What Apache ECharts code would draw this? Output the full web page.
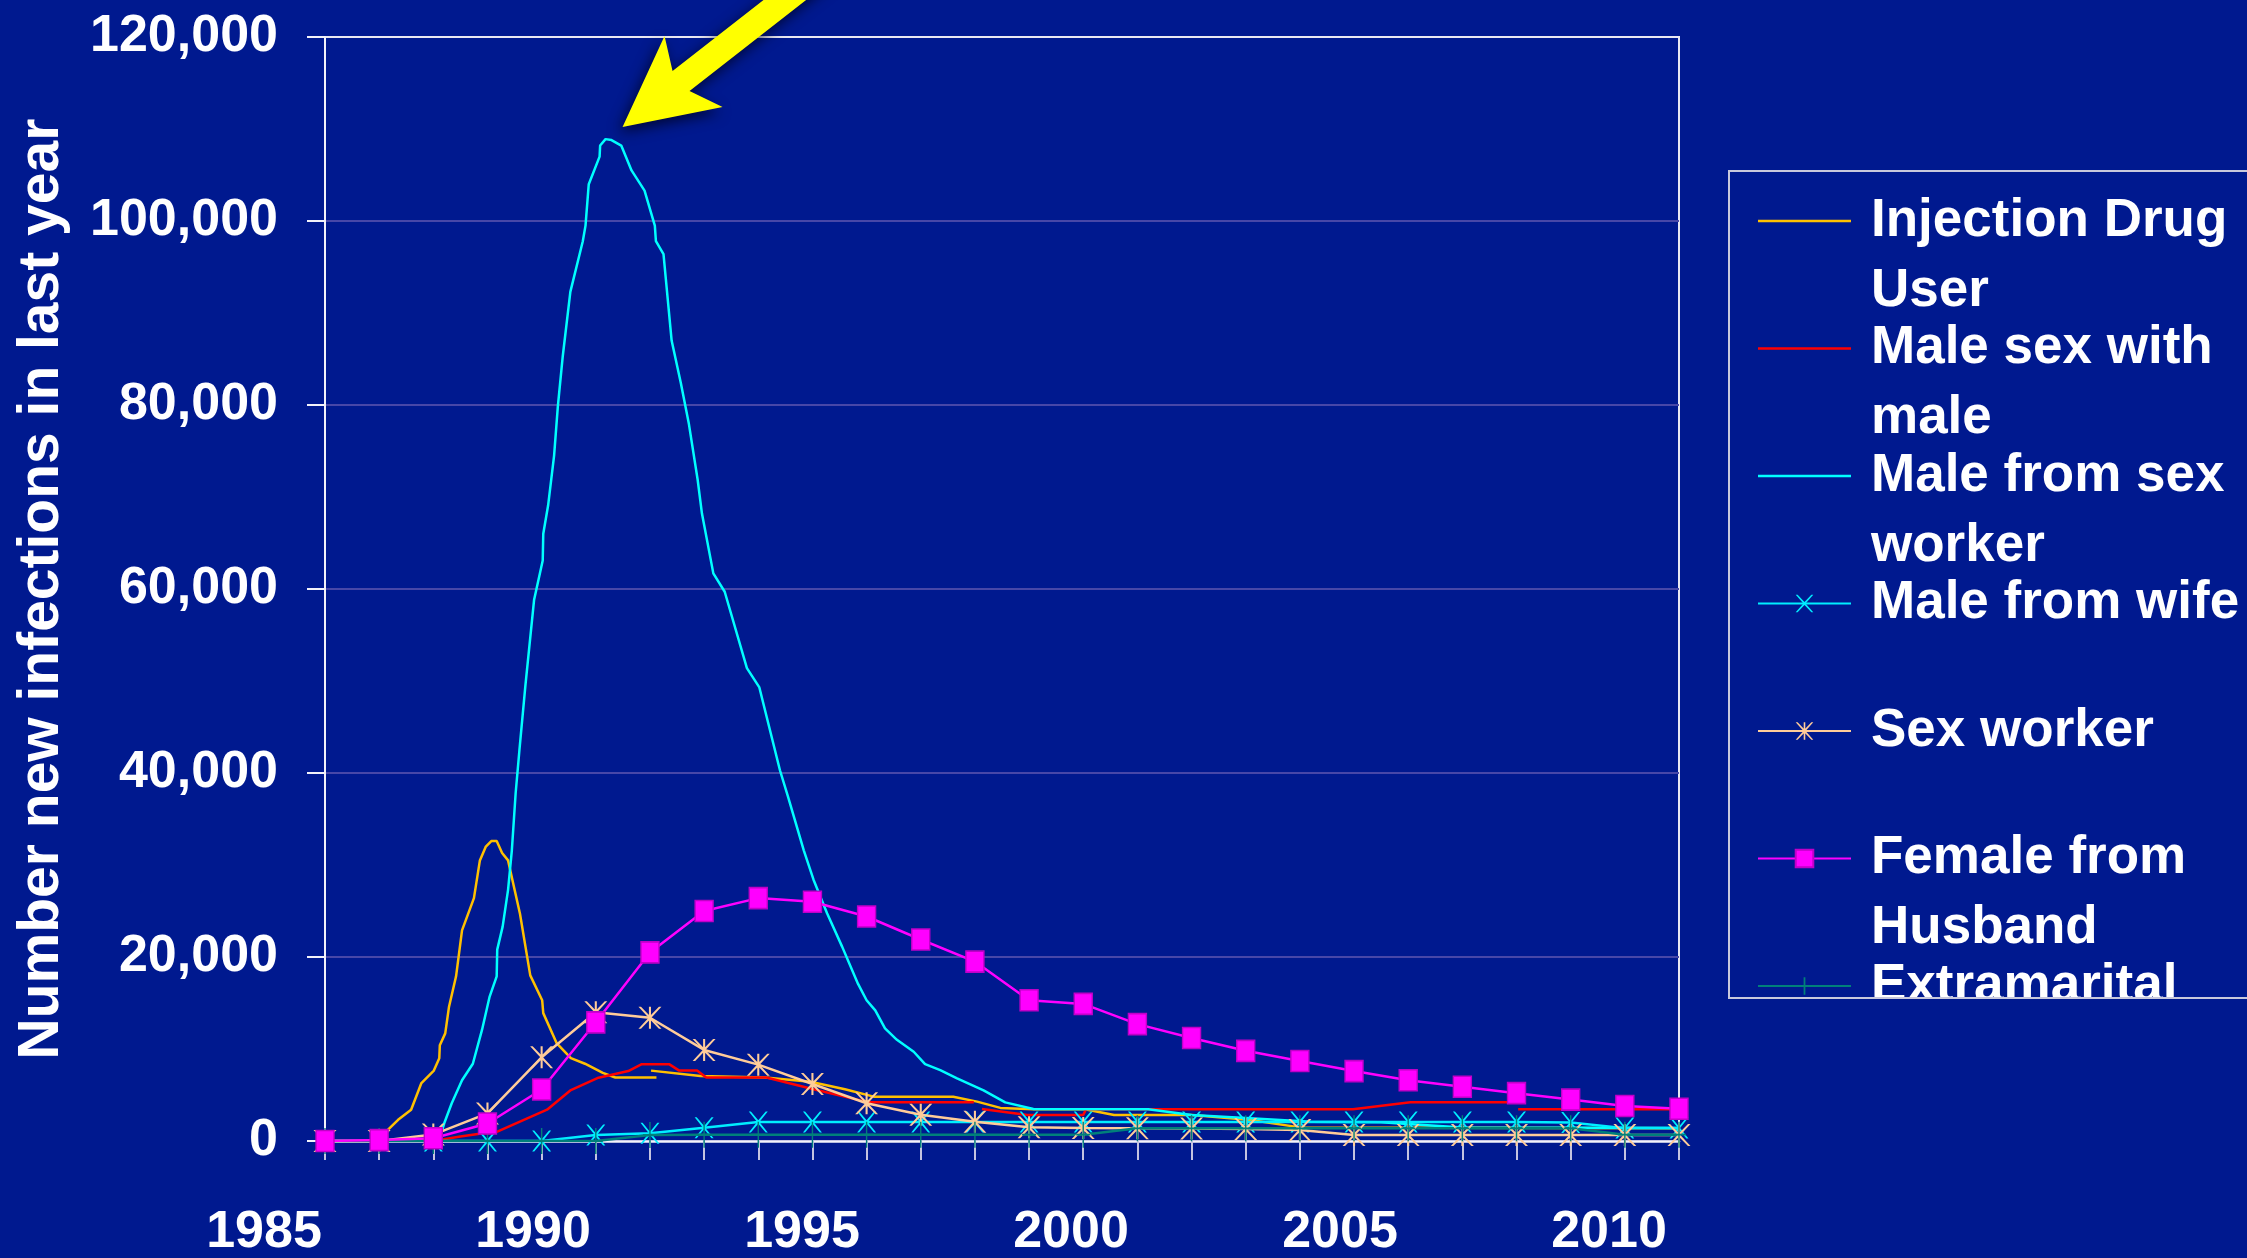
<!DOCTYPE html>
<html>
<head>
<meta charset="utf-8">
<title>Number new infections in last year</title>
<script src="https://cdn.jsdelivr.net/npm/echarts@6/dist/echarts.min.js"></script>
<style>
  html, body { margin: 0; padding: 0; background: #00198F; }
  #chart { width: 2247px; height: 1258px; }
</style>
</head>
<body>
<div id="chart"></div>
<script>
// ---- data -------------------------------------------------------------
// yearly series (one value per year)
const YEARS = [1986, 1987, 1988, 1989, 1990, 1991, 1992, 1993, 1994, 1995, 1996, 1997, 1998,
               1999, 2000, 2001, 2002, 2003, 2004, 2005, 2006, 2007, 2008, 2009, 2010, 2011];

const MALE_FROM_WIFE = [0, 0, 0, 0, 0, 650, 830, 1450, 2070, 2070, 2070, 2070, 2070,
                        2070, 2070, 2070, 2070, 2070, 2070, 2070, 2070, 2070, 2070, 2000, 1400, 1400];

const SEX_WORKER = [0, 0, 700, 3000, 9100, 14000, 13400, 9900, 8300, 6200, 4100, 2850, 2100,
                    1500, 1400, 1380, 1350, 1300, 1200, 650, 650, 650, 650, 650, 650, 650];

const FEMALE_FROM_HUSBAND = [0, 100, 300, 1900, 5600, 12900, 20500, 25000, 26400, 26000, 24400, 21900, 19500,
                             15300, 14900, 12700, 11200, 9800, 8700, 7600, 6600, 5900, 5200, 4500, 3800, 3500];

const EXTRAMARITAL = [0, 0, 0, 0, 0, 0, 650, 690, 690, 690, 690, 690, 690,
                      690, 690, 1380, 1380, 1380, 1380, 1380, 1380, 1380, 1380, 1380, 690, 690];

// finer time steps: [year, infections]; a null value breaks the line
const INJECTION_DRUG_USER = [
  [1986, 0], [1987.05, 0], [1987.16, 1200], [1987.35, 2300], [1987.59, 3400], [1987.78, 6300],
  [1988.01, 7650], [1988.11, 9000], [1988.12, 10400], [1988.22, 11700], [1988.29, 14600],
  [1988.42, 17900], [1988.53, 22900], [1988.75, 26400], [1988.86, 30500], [1988.97, 32000],
  [1989.07, 32600], [1989.17, 32600], [1989.27, 31300], [1989.38, 30500], [1989.6, 24700],
  [1989.79, 18000], [1990.01, 15300], [1990.03, 13900], [1990.28, 10600], [1990.54, 9000],
  [1990.8, 8400], [1991.13, 7400], [1991.36, 6900], [1992.12, 6900], [1992.07, null],
  [1992.02, 7650], [1992.93, 7070], [1994.13, 6900], [1994.96, 6450], [1995.6, 5620],
  [1996.13, 4820], [1997.6, 4820], [1998.04, 4280], [1998.47, 3600], [1999.08, 3440],
  [2000.03, 3440], [2000.57, 2830], [2002.01, 2830], [2003.09, 2280], [2004.0, 1480], [2011, 1380]
];

const MALE_SEX_WITH_MALE = [
  [1986, 0], [1988.0, 0], [1988.5, 500], [1988.92, 850], [1989.14, 900], [1990.1, 3400],
  [1990.54, 5540], [1991.05, 6880], [1991.6, 7600], [1991.84, 8330], [1992.36, 8330],
  [1992.54, 7650], [1992.87, 7650], [1993.04, 6900], [1994.15, 6900], [1995.0, 5650],
  [1996.04, 4200], [1997.98, 4200], [1998.05, null], [1998.13, 3480], [1998.97, 2830],
  [2000.0, 2830], [2000.05, 3440], [2004.98, 3440], [2006.04, 4200], [2008.0, 4200],
  [2008.01, null], [2008.03, 3440], [2011, 3440]
];

const MALE_FROM_SEX_WORKER = [
  [1986, 0], [1988.1, 0], [1988.2, 1900], [1988.34, 4100], [1988.53, 6600], [1988.73, 8400],
  [1988.9, 12100], [1989.04, 15700], [1989.17, 17900], [1989.18, 20800], [1989.28, 23300],
  [1989.38, 27300], [1989.45, 31600], [1989.52, 37800], [1989.59, 42500], [1989.7, 49500],
  [1989.86, 58800], [1990.02, 63100], [1990.03, 66000], [1990.12, 69100], [1990.23, 74500],
  [1990.3, 79900], [1990.39, 85300], [1990.53, 92300], [1990.76, 97800], [1990.81, 99500],
  [1990.87, 104000], [1991.07, 107000], [1991.08, 108200], [1991.18, 108900], [1991.29, 108800],
  [1991.47, 108200], [1991.66, 105500], [1991.9, 103300], [1992.09, 99500], [1992.11, 97800],
  [1992.25, 96400], [1992.4, 87000], [1992.57, 82400], [1992.72, 77900], [1992.88, 71900],
  [1992.96, 68200], [1993.17, 61700], [1993.38, 59700], [1993.79, 51400], [1994.02, 49300],
  [1994.4, 40300], [1994.55, 37400], [1994.84, 31600], [1995.02, 28400], [1995.27, 24750],
  [1995.55, 21100], [1995.84, 17100], [1996.0, 15300], [1996.16, 14200], [1996.34, 12250],
  [1996.56, 11000], [1996.87, 9700], [1997.08, 8350], [1997.36, 7700], [1997.67, 6800],
  [1998.16, 5500], [1998.56, 4200], [1999.08, 3480], [2001.2, 3450], [2002.0, 2830],
  [2003.0, 2500], [2004.2, 2100], [2005.5, 2050], [2007.0, 1480], [2011, 1400]
];

// axis ticks
const X_TICK_LABELS = [1985, 1990, 1995, 2000, 2005, 2010];
const Y_TICKS = [0, 20000, 40000, 60000, 80000, 100000, 120000];

// legend text, one entry per printed line
const LEGEND_LINES = {
  'Injection Drug User': ['Injection Drug', 'User'],
  'Male sex with male': ['Male sex with', 'male'],
  'Male from sex worker': ['Male from sex', 'worker'],
  'Male from wife': ['Male from wife'],
  'Sex worker': ['Sex worker'],
  'Female from Husband': ['Female from', 'Husband'],
  'Extramarital': ['Extramarital']
};

// ---- styling ----------------------------------------------------------
const BG = '#00198F';
const WHITE = '#FFFFFF';
const GRID_LINE = '#4747A8';
const SANS = "'Liberation Sans', Arial, Helvetica, sans-serif";

const SYMBOL_X = 'path://M0,0L2.2,0L10,8.4L17.8,0L20,0L11.2,10L20,20L17.8,20L10,11.6L2.2,20L0,20L8.8,10Z';
const SYMBOL_ASTERISK = 'path://M0,0L2.2,0L10,8.4L17.8,0L20,0L11.2,10L20,20L17.8,20L10,11.6L2.2,20L0,20L8.8,10Z' +
                        'M9.1,0L10.9,0L10.9,20L9.1,20Z';
const SYMBOL_PLUS = 'path://M9,0L11,0L11,20L9,20Z M0,9.3L20,9.3L20,10.7L0,10.7Z';
const LINE_ICON = 'path://M0,0L100,0L100,2.7L0,2.7Z';

const yearly = values => YEARS.map((y, i) => [y, values[i]]);

const lineBase = {
  type: 'line',
  xAxisIndex: 0,
  yAxisIndex: 0,
  connectNulls: false,
  animation: false,
  silent: true,
  emphasis: { disabled: true }
};

const seriesList = [
  Object.assign({}, lineBase, {
    name: 'Injection Drug User', data: INJECTION_DRUG_USER, symbol: 'none',
    color: '#FFC000', lineStyle: { width: 2.5, color: '#FFC000' }, z: 2
  }),
  Object.assign({}, lineBase, {
    name: 'Male sex with male', data: MALE_SEX_WITH_MALE, symbol: 'none',
    color: '#FF0000', lineStyle: { width: 2.5, color: '#FF0000' }, z: 2
  }),
  Object.assign({}, lineBase, {
    name: 'Male from sex worker', data: MALE_FROM_SEX_WORKER, symbol: 'none',
    color: '#00FFFF', lineStyle: { width: 2.5, color: '#00FFFF' }, z: 3
  }),
  Object.assign({}, lineBase, {
    name: 'Male from wife', data: yearly(MALE_FROM_WIFE),
    symbol: SYMBOL_X, symbolSize: [19, 21], showSymbol: true,
    color: '#00EEFF', itemStyle: { color: '#00EEFF' },
    lineStyle: { width: 2.5, color: '#00EEFF' }, z: 3
  }),
  Object.assign({}, lineBase, {
    name: 'Sex worker', data: yearly(SEX_WORKER),
    symbol: SYMBOL_ASTERISK, symbolSize: [23, 22], showSymbol: true,
    color: '#FFCC99', itemStyle: { color: '#FFCC99' },
    lineStyle: { width: 2.5, color: '#FFCC99' }, z: 4
  }),
  Object.assign({}, lineBase, {
    name: 'Female from Husband', data: yearly(FEMALE_FROM_HUSBAND),
    symbol: 'rect', symbolSize: [18, 21], showSymbol: true,
    color: '#FF00FF', itemStyle: { color: '#FF00FF', borderColor: '#C000C8', borderWidth: 1.5 },
    lineStyle: { width: 2.5, color: '#FF00FF' }, z: 5
  }),
  Object.assign({}, lineBase, {
    name: 'Extramarital', data: yearly(EXTRAMARITAL),
    symbol: SYMBOL_PLUS, symbolSize: [14, 26], showSymbol: true,
    color: '#00807A', itemStyle: { color: '#00807A' },
    lineStyle: { width: 2.5, color: '#00807A' }, z: 4
  })
];

// each key entry is three text lines tall; the swatch sits on the first printed line
const legendLabel = name => {
  const lines = LEGEND_LINES[name];
  return lines.length > 1 ? '\n' + lines.join('\n') : '\n' + lines[0] + '\n';
};
const legendData = seriesList.map(s => {
  const item = { name: s.name };
  if (s.symbol === 'none') item.icon = LINE_ICON;
  return item;
});

const chart = echarts.init(document.getElementById('chart'), null, { renderer: 'canvas' });

const tickLabel = {
  color: WHITE, fontFamily: SANS, fontWeight: 'bold', fontSize: 52
};

chart.setOption({
  backgroundColor: BG,
  animation: false,
  grid: [
    { left: 325, top: 37, right: 568, bottom: 117, show: true, outerBoundsMode: 'none',
      borderColor: '#E8E8F2', borderWidth: 2, backgroundColor: 'transparent' },
    // strip that carries the year labels
    { left: 264, right: 638, top: 1131, bottom: 117, show: false, outerBoundsMode: 'none' }
  ],
  xAxis: [
    {
      type: 'value', gridIndex: 0, min: YEARS[0], max: YEARS[YEARS.length - 1], interval: 1,
      axisLine: { show: true, onZero: false, lineStyle: { color: '#F2F2FA', width: 2.5 } },
      axisTick: { show: true, inside: false, length: 19, lineStyle: { color: '#C4C4E0', width: 2 } },
      axisLabel: { show: false },
      splitLine: { show: false }
    },
    {
      type: 'value', gridIndex: 1,
      min: X_TICK_LABELS[0], max: X_TICK_LABELS[X_TICK_LABELS.length - 1],
      interval: X_TICK_LABELS[1] - X_TICK_LABELS[0],
      axisLine: { show: false }, axisTick: { show: false }, splitLine: { show: false },
      axisLabel: Object.assign({ show: true, margin: 92, verticalAlign: 'middle', formatter: v => String(v) }, tickLabel)
    }
  ],
  yAxis: [
    {
      type: 'value', gridIndex: 0,
      min: Y_TICKS[0], max: Y_TICKS[Y_TICKS.length - 1], interval: Y_TICKS[1] - Y_TICKS[0],
      name: 'Number new infections in last year',
      nameLocation: 'middle', nameRotate: 90, nameGap: 283,
      nameTextStyle: { color: WHITE, fontFamily: SANS, fontWeight: 'bold', fontSize: 57, verticalAlign: 'middle' },
      axisLine: { show: true, lineStyle: { color: '#F2F2FA', width: 2 } },
      axisTick: { show: true, inside: false, length: 18, lineStyle: { color: '#F2F2FA', width: 2 } },
      axisLabel: Object.assign({ show: true, margin: 47, formatter: v => v.toLocaleString('en-US') }, tickLabel),
      splitLine: {
        show: true,
        lineStyle: { width: 2, color: [GRID_LINE, GRID_LINE, GRID_LINE, GRID_LINE, GRID_LINE, GRID_LINE, '#E8E8F2'] }
      }
    },
    { type: 'value', gridIndex: 1, show: false, min: 0, max: 1 }
  ],
  legend: {
    orient: 'vertical',
    left: 1757, top: 116,
    padding: 0,
    itemWidth: 93, itemHeight: 22, itemGap: -82.5,
    selectedMode: false,
    textStyle: { color: WHITE, fontFamily: SANS, fontWeight: 'bold', fontSize: 53, lineHeight: 70, padding: [0, 0, 0, 15] },
    formatter: legendLabel,
    data: legendData
  },
  series: seriesList
});

// arrow pointing at the highest point of the "Male from sex worker" curve
const peak = MALE_FROM_SEX_WORKER.reduce((a, b) => (b[1] !== null && b[1] > a[1] ? b : a));
const peakPx = chart.convertToPixel({ xAxisIndex: 0, yAxisIndex: 0 }, peak);
const tip = [peakPx[0] + 17, peakPx[1] - 12];
const arrowShape = [[0, 0], [100, -20], [67, -36], [264, -190], [247, -210], [50, -56], [42, -91]]
  .map(p => [tip[0] + p[0], tip[1] + p[1]]);

chart.setOption({
  graphic: [
    {
      type: 'polygon', z: 90,
      shape: { points: arrowShape },
      style: { fill: '#FFFF00', shadowBlur: 14, shadowColor: 'rgba(0,0,20,0.75)', shadowOffsetX: -3, shadowOffsetY: 5 }
    },
    // key frame runs past the right edge; its lower edge trims the last entry
    {
      type: 'rect', z: 100,
      shape: { x: 1720, y: 998, width: 600, height: 300 },
      style: { fill: BG }
    },
    {
      type: 'rect', z: 101,
      shape: { x: 1729, y: 171, width: 600, height: 827 },
      style: { fill: 'none', stroke: '#C8C8DC', lineWidth: 2 }
    }
  ]
});
</script>
</body>
</html>
